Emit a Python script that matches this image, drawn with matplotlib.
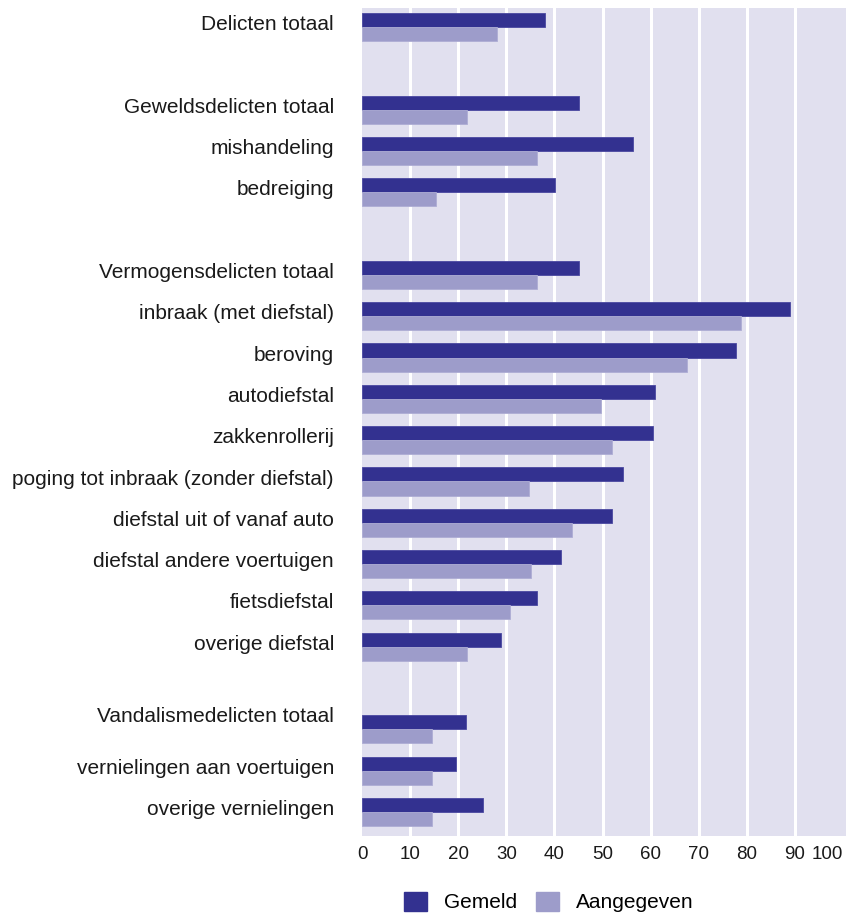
import matplotlib
matplotlib.use('Agg')
import matplotlib.pyplot as plt
from matplotlib.patches import Patch
import numpy as np

plt.rcParams['font.family'] = ['Liberation Sans', 'DejaVu Sans']

# categories, None = empty row between groups
categories = ['Delicten totaal', None,
              'Geweldsdelicten totaal', 'mishandeling', 'bedreiging', None,
              'Vermogensdelicten totaal', 'inbraak (met diefstal)', 'beroving',
              'autodiefstal', 'zakkenrollerij', 'poging tot inbraak (zonder diefstal)',
              'diefstal uit of vanaf auto', 'diefstal andere voertuigen',
              'fietsdiefstal', 'overige diefstal', None,
              'Vandalismedelicten totaal', 'vernielingen aan voertuigen',
              'overige vernielingen']

gemeld = [38.0, None, 45.0, 56.3, 40.1, None, 45.1, 89.0, 77.8, 60.9, 60.5,
          54.3, 52.0, 41.4, 36.4, 28.9, None, 21.6, 19.5, 25.2]
aangegeven = [28.1, None, 21.9, 36.4, 15.3, None, 36.4, 78.8, 67.6, 49.7, 52.0,
              34.7, 43.7, 35.1, 30.8, 21.8, None, 14.6, 14.6, 14.6]

xticks = [0, 10, 20, 30, 40, 50, 60, 70, 80, 90, 100]

dark = '#333190'
light = '#9d9cca'

fig = plt.figure(figsize=(8.55, 9.17), dpi=100)
ax = fig.add_axes([362/855, 1 - 836/917, 484/855, 828/917])
ax.set_facecolor('#e1e0ef')

idx = [i for i, c in enumerate(categories) if c is not None]
y = np.array(idx, dtype=float)
g = [gemeld[i] for i in idx]
a = [aangegeven[i] for i in idx]
h = 0.34

ax.barh(y - h/2, g, height=h, color=dark, edgecolor='#4a48a0', linewidth=0.6, zorder=3)
ax.barh(y + h/2, a, height=h, color=light, edgecolor='#aeadd4', linewidth=0.6, zorder=3)

for x in xticks[1:-1]:
    ax.axvline(x, color='white', linewidth=2.2, zorder=1)

ax.set_xlim(0, 100.6)
ax.set_ylim(19.58, -0.46)
ax.set_yticks([])
ax.set_xticks(xticks)
ax.set_xticklabels([str(t) for t in xticks], fontsize=13.5, color='#1a1a1a')
ax.get_xticklabels()[-1].set_horizontalalignment('right')
ax.tick_params(axis='x', length=0, pad=7)
for s in ax.spines.values():
    s.set_visible(False)

for i in idx:
    dy = -0.06
    if categories[i].startswith('Vandalisme'):
        dy = -0.32
    ax.text(-0.058, i + dy, categories[i], transform=ax.get_yaxis_transform(),
            ha='right', va='center', fontsize=15, color='#1a1a1a')

handles = [Patch(facecolor=dark, edgecolor=dark), Patch(facecolor=light, edgecolor=light)]
fig.legend(handles, ['Gemeld', 'Aangegeven'], loc='center left',
           bbox_to_anchor=(404/855, 1 - 902/917), ncol=2, frameon=False,
           fontsize=15, handlelength=1.1, handleheight=1.06, handletextpad=0.82,
           columnspacing=0.9, borderpad=0, borderaxespad=0)

fig.savefig('out.png', dpi=100)
